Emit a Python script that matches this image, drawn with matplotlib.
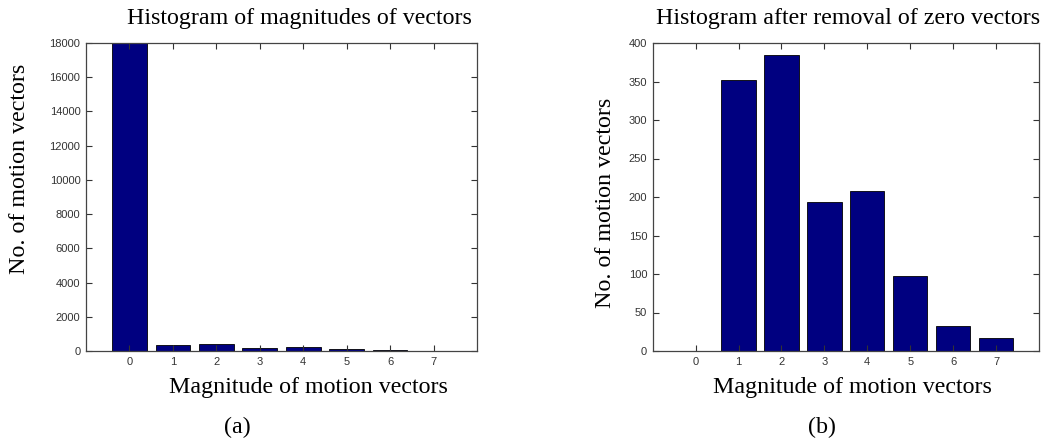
import numpy as np
import matplotlib.pyplot as plt

# magnitude bins and counts
magnitudes = [0, 1, 2, 3, 4, 5, 6, 7]
counts_all = [18000, 352, 385, 193, 208, 97, 33, 17]
counts_nonzero = [0, 352, 385, 193, 208, 97, 33, 17]
yticks_all = [0, 2000, 4000, 6000, 8000, 10000, 12000, 14000, 16000, 18000]
yticks_nonzero = [0, 50, 100, 150, 200, 250, 300, 350, 400]

W, H = 1048, 442
BAR = '#000080'
SERIF = 'Liberation Serif'
BIG = 17.3


def style_axes(ax, yticks, ylim):
    ax.set_xlim(-1, 8)
    ax.set_ylim(*ylim)
    ax.set_xticks(magnitudes)
    ax.set_yticks(yticks)
    ax.tick_params(direction='in', top=True, right=True, length=4, width=0.8,
                   labelsize=8, colors='#333333', pad=4)
    for lab in ax.get_xticklabels() + ax.get_yticklabels():
        lab.set_family('Liberation Sans')
    for sp in ax.spines.values():
        sp.set_color('#444444')
        sp.set_linewidth(0.9)


fig = plt.figure(figsize=(W / 100, H / 100), dpi=100)

# (a) all vectors
ax1 = fig.add_axes([86 / W, 91 / H, 391 / W, 308 / H])
ax1.bar(magnitudes, counts_all, width=0.8, color=BAR, edgecolor='black', linewidth=0.6)
style_axes(ax1, yticks_all, (0, 18000))
ax1.text(0.547, 1.08, 'Histogram of magnitudes of vectors', transform=ax1.transAxes,
         ha='center', va='center', fontsize=BIG, family=SERIF)
ax1.set_xlabel('Magnitude of motion vectors', fontsize=BIG, family=SERIF)
ax1.xaxis.set_label_coords(0.568, -0.117)
ax1.xaxis.label.set_va('center')
ax1.set_ylabel('No. of motion vectors', fontsize=BIG, family=SERIF)
ax1.yaxis.set_label_coords(-0.169, 0.591)
ax1.yaxis.label.set_va('center')

# (b) zero vectors removed
ax2 = fig.add_axes([652.7 / W, 91 / H, 386.3 / W, 308 / H])
ax2.bar(magnitudes, counts_nonzero, width=0.8, color=BAR, edgecolor='black', linewidth=0.6)
style_axes(ax2, yticks_nonzero, (0, 400))
ax2.text(0.506, 1.08, 'Histogram after removal of zero vectors', transform=ax2.transAxes,
         ha='center', va='center', fontsize=BIG, family=SERIF)
ax2.set_xlabel('Magnitude of motion vectors', fontsize=BIG, family=SERIF)
ax2.xaxis.set_label_coords(0.516, -0.117)
ax2.xaxis.label.set_va('center')
ax2.set_ylabel('No. of motion vectors', fontsize=BIG, family=SERIF)
ax2.yaxis.set_label_coords(-0.121, 0.482)
ax2.yaxis.label.set_va('center')

fig.text(237 / W, 1 - 427 / H, '(a)', ha='center', va='center', fontsize=BIG, family=SERIF)
fig.text(822 / W, 1 - 427 / H, '(b)', ha='center', va='center', fontsize=BIG, family=SERIF)

fig.savefig('out.png', dpi=100)
